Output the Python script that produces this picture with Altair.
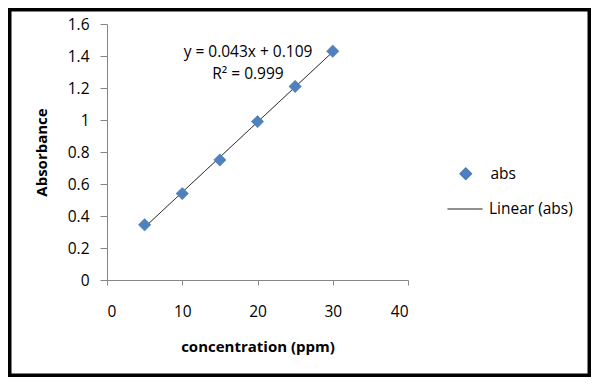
import altair as alt
import pandas as pd

# data
concentration = [5, 10, 15, 20, 25, 30]
absorbance = [0.345, 0.54, 0.75, 0.99, 1.21, 1.43]
series_name = "abs"
trend_name = "Linear (abs)"
equation_lines = ["y = 0.043x + 0.109", "R\u00b2 = 0.999"]
x_ticks = [0, 10, 20, 30, 40]
y_ticks = [0, 0.2, 0.4, 0.6, 0.8, 1.0, 1.2, 1.4, 1.6]

FONT = "Open Sans"
FS = 15.5
BLUE = "#4F81BD"
AXIS_GRAY = "#868686"

df = pd.DataFrame({"conc": concentration, "abs": absorbance, "series": [series_name] * len(concentration)})

xscale = alt.Scale(domain=[0, 40], nice=False, zero=True)
yscale = alt.Scale(domain=[0, 1.6], nice=False, zero=True)

xaxis = alt.Axis(values=x_ticks, title="concentration (ppm)", grid=False,
                 tickSize=5, labelPadding=19, titlePadding=20, format="d")
yaxis = alt.Axis(values=y_ticks, title="Absorbance", grid=False,
                 tickSize=7, labelPadding=11, titlePadding=18, format=".1~f")

base = alt.Chart(df)

trend = base.transform_regression(
    "conc", "abs", extent=[5, 30]
).transform_calculate(
    series=f"'{trend_name}'"
).mark_line(color="black", strokeWidth=1).encode(
    x=alt.X("conc:Q", scale=xscale, axis=xaxis),
    y=alt.Y("abs:Q", scale=yscale, axis=yaxis),
    strokeDash=alt.StrokeDash(
        "series:N",
        scale=alt.Scale(domain=[trend_name], range=[[1, 0]]),
        legend=alt.Legend(title=None, orient="none", legendX=340, legendY=167,
                          symbolType="stroke", symbolSize=1225,
                          symbolStrokeColor="black", symbolStrokeWidth=1,
                          labelOffset=6),
    ),
)

points = base.mark_point(shape="diamond", filled=True, size=155, opacity=1,
                         stroke="#4A7AB4", strokeWidth=0.5).encode(
    x=alt.X("conc:Q", scale=xscale, axis=xaxis),
    y=alt.Y("abs:Q", scale=yscale, axis=yaxis),
    color=alt.Color(
        "series:N",
        scale=alt.Scale(domain=[series_name], range=[BLUE]),
        legend=alt.Legend(title=None, orient="none", legendX=351, legendY=142,
                          symbolType="diamond", symbolSize=128, symbolOpacity=1,
                          labelOffset=17),
    ),
)

eq1 = alt.Chart(pd.DataFrame({"t": [equation_lines[0]]})).mark_text(
    font=FONT, fontSize=FS, color="black", align="center", baseline="middle"
).encode(x=alt.value(141), y=alt.value(28), text="t:N")

eq2 = alt.Chart(pd.DataFrame({"t": [equation_lines[1]]})).mark_text(
    font=FONT, fontSize=FS, color="black", align="center", baseline="middle"
).encode(x=alt.value(141), y=alt.value(49.5), text="t:N")

frame = alt.Chart(pd.DataFrame({"a": [0]})).mark_rect(
    fill="transparent", stroke="black", strokeWidth=3.5
).encode(x=alt.value(-97.25), x2=alt.value(482.25), y=alt.value(-14.25), y2=alt.value(351.25))

chart = alt.layer(frame, trend, points, eq1, eq2).properties(
    width=301, height=256,
    autosize=alt.AutoSizeParams(type="none"),
    padding={"left": 99, "top": 16, "right": 183, "bottom": 97},
).configure_view(stroke=None).configure_axis(
    domainColor=AXIS_GRAY, tickColor=AXIS_GRAY, labelColor="black",
    labelFont=FONT, labelFontSize=FS, titleFont=FONT, titleFontSize=15,
    titleFontWeight="bold", titleColor="black"
).configure_legend(
    labelFont=FONT, labelFontSize=FS, labelColor="black", padding=0
)

chart.save("out.html", embed_options={"renderer": "svg", "actions": False})
